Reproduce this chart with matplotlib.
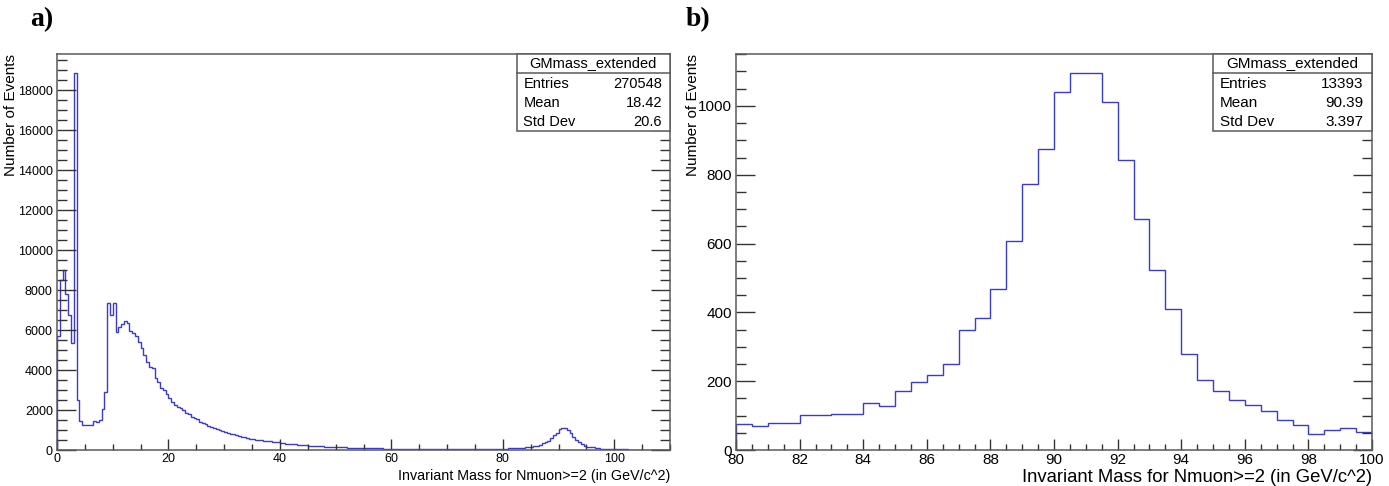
import numpy as np
import matplotlib
matplotlib.use("Agg")
import matplotlib.pyplot as plt
from matplotlib.patches import Rectangle
from matplotlib.ticker import MultipleLocator

plt.rcParams['font.family'] = ['Liberation Sans', 'DejaVu Sans']

BIN_WIDTH = 0.5  # GeV

# counts per 0.5 GeV bin
# 0 - 11 GeV (low mass resonances)
low_mass = [5700, 8500, 9000, 7800, 6750, 5350, 18870, 2500, 1470, 1270,
            1250, 1250, 1270, 1470, 1420, 1500, 2030, 2900, 7350, 6750,
            7350, 5920]
# 11 - 42 GeV
mid_mass = [6170, 6300, 6450, 6330, 5970, 5830, 5700, 5420, 5080, 4750,
            4420, 4170, 4080, 3580, 3420, 3080, 3000, 2780, 2580, 2420,
            2250, 2170, 2080, 2000, 1870, 1780, 1670, 1580, 1530, 1420,
            1370, 1300, 1200, 1170, 1080, 1050, 1000, 950, 900, 850,
            820, 780, 730, 700, 670, 630, 600, 570, 550, 520,
            500, 480, 470, 450, 430, 420, 400, 380, 370, 330,
            320, 300]
# 42 - 80 GeV
tail_mass = [290, 280, 265, 255, 245, 235, 225, 215, 210, 200,
             190, 182, 175, 168, 160, 155, 148, 140, 136, 130,
             124, 120, 114, 110, 104, 100, 97, 92, 90, 86,
             82, 80, 76, 74, 70, 68, 66, 62, 60, 58,
             56, 55, 52, 50, 49, 47, 46, 45, 44, 43,
             42, 42, 41, 40, 40, 40, 41, 40, 42, 41,
             43, 44, 45, 46, 48, 50, 52, 55, 57, 60,
             62, 64, 66, 68, 70, 73]
# 80 - 100 GeV (Z peak, also panel b)
z_peak = [75, 71, 79, 79, 101, 101, 105, 105, 138, 129,
          172, 199, 217, 251, 349, 383, 467, 607, 773, 875,
          1040, 1096, 1096, 1011, 842, 671, 522, 411, 280, 202,
          172, 145, 130, 113, 86, 73, 47, 58, 63, 52]
# 100 - 110 GeV
high_mass = [45, 40, 35, 30, 28, 25, 20, 18, 15, 12,
             10, 8, 6, 4, 2, 0, 0, 0, 0, 0]

stat_names = ["Entries", "Mean", "Std Dev"]
stats_a = ["270548", "18.42", "20.6"]
stats_b = ["13393", "90.39", "3.397"]
hist_name = "GMmass_extended"

xlabel = "Invariant Mass for Nmuon>=2 (in GeV/c^2)"
ylabel = "Number of Events"

LINE = '#3a3ad2'
FRAME = '#5a5a5a'


def stats_box(ax, values, fs):
    x0, y0 = 0.75, 0.806
    ax.add_patch(Rectangle((x0, y0), 1 - x0, 1 - y0, transform=ax.transAxes,
                           fill=True, facecolor='white', edgecolor=FRAME,
                           lw=1.1, zorder=5, clip_on=False))
    ax.plot([x0, 1.0], [0.953, 0.953], transform=ax.transAxes, color=FRAME,
            lw=1.1, zorder=6, clip_on=False)
    ax.text((x0 + 1) / 2, 0.976, hist_name, transform=ax.transAxes,
            ha='center', va='center', fontsize=fs, zorder=7)
    for name, val, y in zip(stat_names, values, [0.925, 0.877, 0.829]):
        ax.text(0.761, y, name, transform=ax.transAxes, ha='left',
                va='center', fontsize=fs, zorder=7)
        ax.text(0.987, y, val, transform=ax.transAxes, ha='right',
                va='center', fontsize=fs, zorder=7)


def style_axes(ax, xmaj, xmin, ymaj, ymin, fs):
    for sp in ['top', 'right', 'left', 'bottom']:
        ax.spines[sp].set_color(FRAME)
        ax.spines[sp].set_linewidth(1.1)
    ax.xaxis.set_major_locator(MultipleLocator(xmaj))
    ax.xaxis.set_minor_locator(MultipleLocator(xmin))
    ax.yaxis.set_major_locator(MultipleLocator(ymaj))
    ax.yaxis.set_minor_locator(MultipleLocator(ymin))
    ax.tick_params(axis='both', which='both', direction='in', top=False,
                   right=True, color='#333333', width=1.0, labelsize=fs)
    ax.tick_params(axis='y', which='major', length=14, pad=3)
    ax.tick_params(axis='y', which='minor', length=7)
    ax.tick_params(axis='x', which='major', length=8, pad=2)
    ax.tick_params(axis='x', which='minor', length=4)


fig = plt.figure(figsize=(13.89, 4.86), dpi=100)

# panel a: full range
edges_a = np.arange(0, 110 + BIN_WIDTH / 2, BIN_WIDTH)
counts_a = np.array(low_mass + mid_mass + tail_mass + z_peak + high_mass)
ax1 = fig.add_axes([57 / 1389, 36 / 486, 613 / 1389, 396 / 486])
ax1.stairs(counts_a, edges_a, color=LINE, lw=1.0)
ax1.set_xlim(0, 110)
ax1.set_ylim(0, counts_a.max() * 1.05)
style_axes(ax1, 20, 5, 2000, 500, 9)
ax1.set_xlabel(xlabel, loc='right', fontsize=10.3)
ax1.set_ylabel(ylabel, loc='top', fontsize=11)
ax1.xaxis.set_label_coords(1.0, -0.047)
ax1.yaxis.set_label_coords(-0.063, 1.0)
stats_box(ax1, stats_a, 10.5)

# panel b: Z peak
edges_b = np.arange(80, 100 + BIN_WIDTH / 2, BIN_WIDTH)
counts_b = np.array(z_peak)
ax2 = fig.add_axes([736 / 1389, 36 / 486, 636 / 1389, 396 / 486])
ax2.stairs(counts_b, edges_b, color=LINE, lw=1.0)
ax2.set_xlim(80, 100)
ax2.set_ylim(0, counts_b.max() * 1.05)
style_axes(ax2, 2, 0.5, 200, 50, 11)
ax2.set_xlabel(xlabel, loc='right', fontsize=13.3)
ax2.set_ylabel(ylabel, loc='top', fontsize=11)
ax2.xaxis.set_label_coords(1.0, -0.047)
ax2.yaxis.set_label_coords(-0.0566, 1.0)
stats_box(ax2, stats_b, 11)

fig.text(30 / 1389, 1 - 20 / 486, "a)", fontsize=20, fontweight='bold',
         family=['Liberation Serif', 'DejaVu Serif'], va='center')
fig.text(686 / 1389, 1 - 20 / 486, "b)", fontsize=20, fontweight='bold',
         family=['Liberation Serif', 'DejaVu Serif'], va='center')

fig.savefig("out.png", dpi=100)
